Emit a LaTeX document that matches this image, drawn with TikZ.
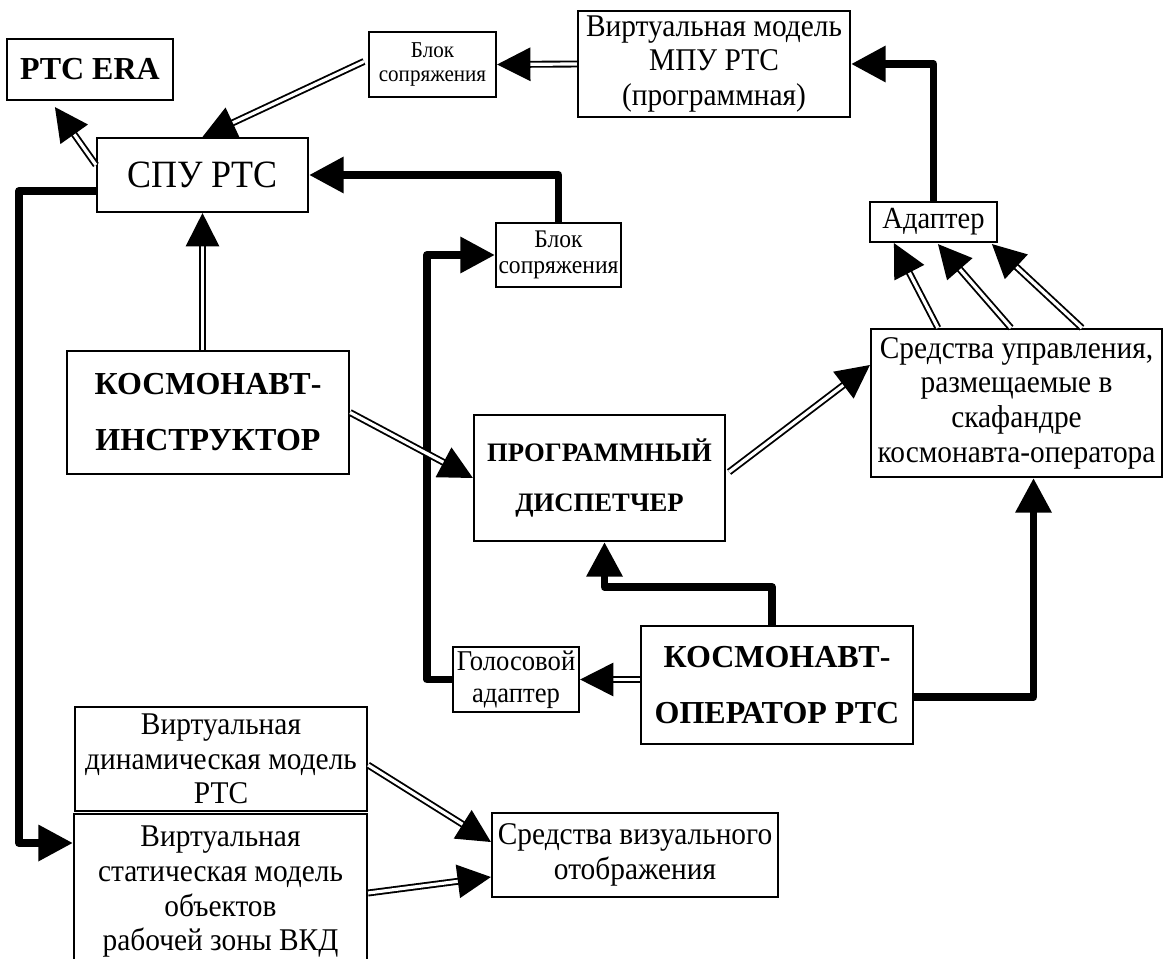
\documentclass[tikz,border=0pt]{standalone}
\usepackage{fontspec}
\setmainfont{Liberation Serif}[FakeStretch=0.93]
\newfontfamily\boldserif{Liberation Serif}
\usetikzlibrary{arrows.meta,calc}
\tikzset{
  blk/.style={draw, line width=1.6pt, inner sep=0pt, align=center},
  txtnorm/.style={font=\fontsize{23.7}{26}\selectfont},
  txtbold/.style={font=\boldserif\bfseries\fontsize{24}{42}\selectfont},
  fatline/.style={line width=5.8pt, line join=round, -{Triangle[length=26pt,width=26pt]}},
  dline/.style={double, double distance=2.4pt, line width=1.4pt, -{Triangle[length=25pt,width=25pt]}},
}
\begin{document}
\begin{tikzpicture}[x=0.75pt,y=-0.75pt]
% coordinates in pixels of the original figure
\clip (0,0) rectangle (1163,959);
\node[blk, minimum width=124.5pt, minimum height=45.75pt,
  font=\boldserif\bfseries\fontsize{24}{28}\selectfont] (ptcera) at (90,69.5) {PTC ERA};
\node[blk, minimum width=95.25pt, minimum height=48.75pt,
  font=\fontsize{17}{18}\selectfont] (blok1) at (432.5,64.5) {Блок\\сопряжения};
\node[blk, txtnorm, minimum width=204pt, minimum height=79.5pt] (vmodel) at (714,64)
  {Виртуальная модель\\МПУ РТС\\(программная)};
\node[blk, minimum width=158.25pt, minimum height=55.5pt,
  font=\fontsize{29}{32}\selectfont] (spu) at (202.5,175) {СПУ РТС};
\node[blk, minimum width=93.75pt, minimum height=48pt,
  font=\fontsize{19}{20}\selectfont] (blok2) at (558.5,255) {Блок\\сопряжения};
\node[blk, minimum width=95.25pt, minimum height=30pt,
  font=\fontsize{23}{24}\selectfont] (adapter) at (933.5,222) {Адаптер};
\node[blk, txtbold, minimum width=211.5pt, minimum height=92.25pt] (instr) at (208,412.5)
  {КОСМОНАВТ-\\ИНСТРУКТОР};
\node[blk, minimum width=188.25pt, minimum height=94.5pt,
  font=\boldserif\bfseries\fontsize{20}{37}\selectfont] (disp) at (599.5,478)
  {ПРОГРАММНЫЙ\\ДИСПЕТЧЕР};
\node[blk, txtnorm, minimum width=218.25pt, minimum height=111pt] (sredupr) at (1016.5,403)
  {Средства управления,\\размещаемые в\\скафандре\\космонавта-оператора};
\node[blk, minimum width=94.5pt, minimum height=48.75pt,
  font=\fontsize{21.5}{24}\selectfont] (golos) at (516,679.5) {Голосовой\\адаптер};
\node[blk, txtbold, minimum width=204pt, minimum height=88.5pt] (oper) at (777,685)
  {КОСМОНАВТ-\\ОПЕРАТОР РТС};
\node[blk, txtnorm, minimum width=219pt, minimum height=78pt] (vdyn) at (221,759)
  {Виртуальная\\динамическая модель\\РТС};
\node[blk, txtnorm, minimum width=219.75pt, minimum height=117pt] (vstat) at (220.5,892)
  {Виртуальная\\статическая модель\\объектов\\рабочей зоны ВКД};
\node[blk, txtnorm, minimum width=214.5pt, minimum height=63pt] (sredviz) at (635,855)
  {Средства визуального\\отображения};
% thick links
\draw[fatline] (blok2.north) |- (spu.east);
\draw[fatline] ($(spu.west)+(0,16)$) -| ($(vstat.west)+(-54,-49)$) -- ($(vstat.west)+(0,-49)$);
\draw[fatline] (golos.west) -- ++(-25,0) |- (blok2.west);
\draw[fatline] (adapter.north) |- (vmodel.east);
\draw[fatline] ($(oper.north)+(-5,0)$) -- ++(0,-38) -| ($(disp.south)+(5,0)$);
\draw[fatline] ($(oper.east)+(0,12)$) -| ($(sredupr.south)+(17,0)$);
% double links
\draw[dline] (vmodel.west) -- (blok1.east);
\draw[dline] ($(blok1.west)+(-4,-3)$) -- (spu.north);
\draw[dline] ($(spu.west)+(0,-10)$) -- ($(ptcera.south west)+(49,6)$);
\draw[dline] (spu.south |- instr.north) -- (spu.south);
\draw[dline] (instr.east) -- (disp.west);
\draw[dline] ($(disp.east)+(3,-6)$) -- ($(sredupr.west)+(0,-38)$);
\draw[dline] ($(sredupr.north west)+(68,0)$) -- ($(adapter.south west)+(25,0)$);
\draw[dline] ($(sredupr.north west)+(141,0)$) -- ($(adapter.south west)+(69,1)$);
\draw[dline] ($(sredupr.north west)+(212,0)$) -- ($(adapter.south west)+(123,1)$);
\draw[dline] (oper.west |- golos.east) -- (golos.east);
\draw[dline] ($(vdyn.east)+(0,6)$) -- ($(sredviz.west)+(0,-13)$);
\draw[dline] ($(vstat.east)+(0,1)$) -- ($(sredviz.west)+(0,22)$);
\end{tikzpicture}
\end{document}
